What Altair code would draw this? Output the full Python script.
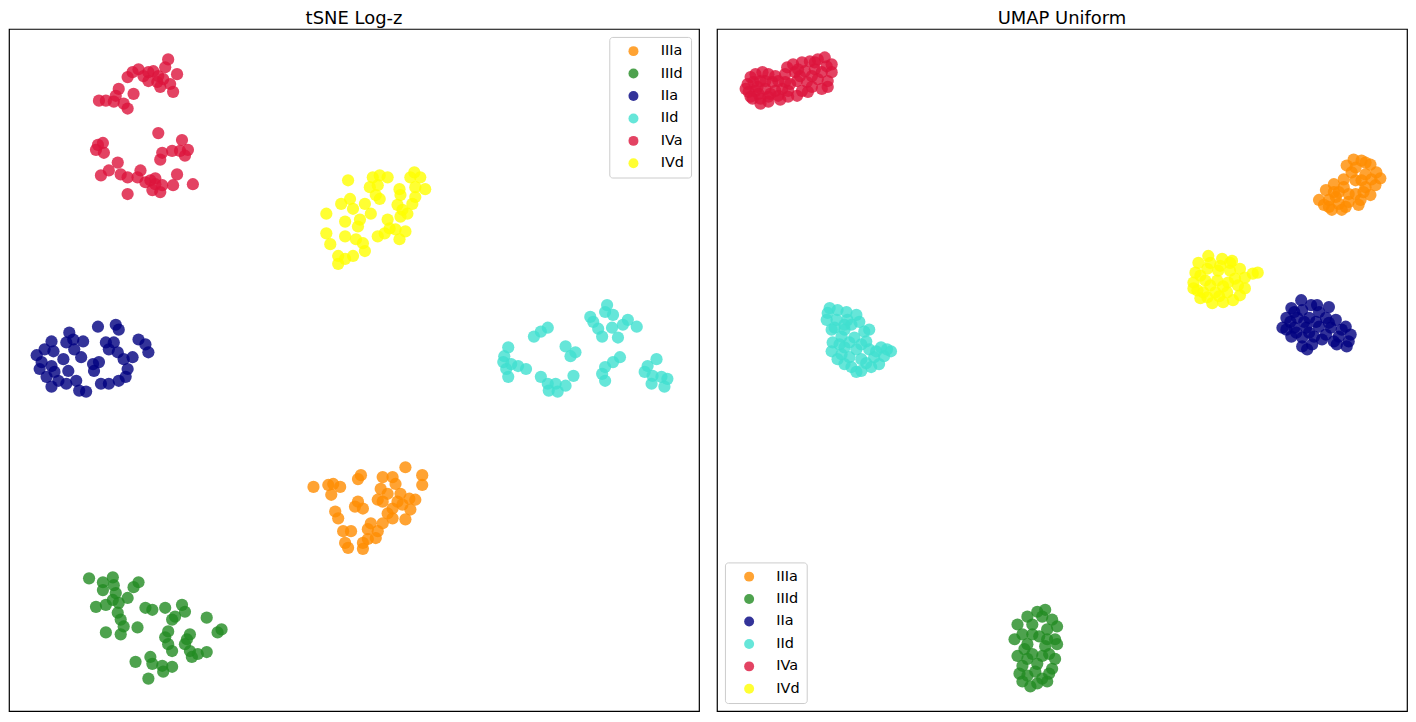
import altair as alt
import pandas as pd

classes = ["IIIa", "IIId", "IIa", "IId", "IVa", "IVd"]
colors = ["#FF8C00", "#228B22", "#000080", "#40E0D0", "#DC143C", "#FFFF00"]

# ---- tSNE Log-z (embedding coordinates; y grows downward) ----
tsne_IVa = [(163, 55), (160, 63), (172, 70), (133, 65), (127, 68), (122, 73), (143, 68), (148, 67),
            (153, 72), (143, 77), (152, 78), (155, 83), (165, 80), (168, 88), (113, 85), (110, 92),
            (128, 90), (93, 97), (100, 97), (108, 98), (118, 100), (122, 105), (158, 75), (138, 72),
            (153, 130), (177, 137), (92, 142), (97, 140), (90, 147), (98, 150), (157, 150), (155, 157),
            (167, 148), (175, 148), (183, 147), (180, 153), (112, 160), (103, 168), (95, 173), (115, 172),
            (122, 175), (135, 168), (132, 175), (145, 178), (150, 182), (147, 188), (155, 190), (157, 183),
            (168, 183), (172, 172), (188, 182), (122, 192), (140, 180), (150, 176)]
tsne_IVd = [(345, 178), (370, 175), (377, 173), (385, 175), (367, 185), (375, 183), (373, 193), (377, 197),
            (412, 170), (408, 175), (418, 175), (423, 187), (413, 185), (397, 187), (398, 193), (413, 195),
            (410, 202), (395, 203), (400, 208), (405, 212), (398, 215), (347, 197), (338, 202), (350, 207),
            (362, 202), (368, 212), (323, 212), (342, 220), (357, 218), (355, 225), (385, 218), (387, 227),
            (393, 228), (403, 230), (397, 238), (382, 232), (375, 235), (323, 232), (327, 243), (342, 235),
            (353, 238), (360, 242), (362, 250), (350, 255), (342, 258), (335, 255), (335, 263)]
tsne_IIa = [(92, 327), (110, 325), (113, 330), (63, 333), (67, 340), (60, 343), (45, 342), (38, 350),
            (47, 352), (77, 342), (68, 350), (75, 358), (57, 360), (35, 363), (33, 370), (45, 367),
            (48, 373), (52, 382), (45, 388), (60, 385), (70, 382), (73, 392), (80, 393), (87, 365),
            (93, 363), (88, 372), (100, 343), (108, 343), (103, 350), (112, 353), (118, 360), (127, 358),
            (133, 340), (140, 345), (143, 353), (122, 370), (120, 378), (113, 382), (103, 385), (95, 385),
            (30, 356), (40, 378), (62, 372)]
tsne_IId = [(607, 305), (605, 312), (613, 315), (590, 317), (593, 322), (628, 320), (623, 325), (637, 327),
            (612, 328), (602, 337), (618, 338), (547, 328), (540, 332), (533, 337), (565, 347), (575, 353),
            (570, 357), (507, 348), (503, 357), (502, 363), (510, 365), (517, 367), (525, 370), (507, 378),
            (620, 358), (613, 363), (605, 368), (602, 375), (605, 382), (540, 378), (547, 385), (555, 385),
            (565, 387), (573, 377), (548, 392), (557, 393), (657, 360), (648, 367), (645, 373), (653, 377),
            (652, 385), (662, 378), (668, 380), (665, 388), (505, 370), (598, 329)]
tsne_IIIa = [(310, 490), (403, 470), (420, 478), (420, 488), (330, 487), (325, 488), (337, 490), (328, 498),
             (358, 478), (355, 482), (380, 480), (390, 480), (393, 487), (378, 492), (398, 497), (407, 502),
             (413, 503), (355, 505), (352, 510), (360, 512), (375, 503), (380, 505), (332, 515), (335, 522),
             (385, 517), (390, 512), (400, 508), (408, 513), (403, 523), (390, 522), (380, 527), (368, 527),
             (365, 533), (375, 535), (340, 535), (348, 535), (342, 547), (345, 552), (360, 547), (365, 543),
             (360, 553), (373, 542), (395, 505), (385, 497)]
tsne_IIId = [(83, 583), (107, 582), (97, 587), (108, 590), (133, 587), (128, 592), (97, 595), (110, 598),
             (122, 603), (90, 612), (100, 610), (107, 605), (112, 618), (140, 613), (147, 615), (160, 613),
             (177, 610), (180, 617), (170, 622), (167, 625), (115, 625), (118, 632), (132, 633), (115, 640),
             (100, 638), (202, 623), (163, 637), (160, 643), (163, 650), (167, 657), (185, 640), (180, 650),
             (185, 657), (187, 663), (193, 660), (202, 658), (213, 638), (217, 635), (130, 668), (145, 663),
             (147, 670), (157, 672), (158, 678), (167, 673), (143, 685), (113, 608), (182, 645)]

# ---- UMAP Uniform ----
umap_IVa = [(750, 73), (755, 70), (762, 68), (768, 70), (775, 72), (747, 80), (753, 78), (760, 77),
            (772, 78), (778, 77), (748, 88), (755, 87), (765, 85), (775, 87), (782, 85), (752, 95),
            (760, 95), (768, 93), (778, 92), (768, 98), (788, 87), (788, 93), (797, 92), (787, 63),
            (793, 60), (802, 58), (810, 57), (818, 55), (825, 53), (785, 70), (795, 68), (805, 67),
            (815, 65), (827, 62), (832, 68), (797, 77), (807, 78), (818, 75), (828, 77), (802, 87),
            (812, 83), (822, 85), (785, 78), (745, 85), (758, 90), (770, 90), (790, 80), (800, 72),
            (812, 72), (822, 68), (832, 60), (815, 58), (798, 65), (765, 77), (780, 96), (757, 83),
            (808, 88), (828, 83), (760, 100), (750, 93)]
umap_IIIa = [(1368, 158), (1377, 162), (1353, 163), (1362, 165), (1383, 170), (1372, 172), (1350, 177),
             (1362, 178), (1382, 183), (1372, 185), (1340, 182), (1332, 188), (1345, 190), (1325, 198),
             (1335, 198), (1345, 202), (1338, 208), (1348, 208), (1362, 192), (1367, 198), (1355, 200),
             (1365, 203), (1377, 193), (1330, 203), (1342, 195), (1358, 170), (1368, 178), (1350, 185),
             (1340, 190), (1355, 192), (1370, 190), (1378, 177), (1387, 176), (1372, 160), (1335, 205),
             (1352, 205), (1360, 157)]
umap_IVd = [(1213, 255), (1227, 258), (1237, 260), (1203, 262), (1200, 272), (1212, 268), (1223, 270),
            (1235, 270), (1245, 268), (1258, 273), (1250, 277), (1198, 282), (1210, 280), (1222, 280),
            (1233, 282), (1243, 285), (1198, 288), (1208, 292), (1220, 292), (1232, 292), (1245, 295),
            (1205, 298), (1217, 303), (1228, 302), (1238, 300), (1215, 262), (1225, 265), (1205, 275),
            (1215, 285), (1228, 286), (1240, 278), (1250, 288), (1212, 297), (1224, 296), (1235, 262),
            (1263, 272), (1202, 290)]
umap_IIa = [(1307, 300), (1317, 305), (1335, 307), (1297, 308), (1308, 310), (1325, 312), (1292, 318),
            (1303, 318), (1315, 318), (1332, 318), (1342, 320), (1288, 328), (1300, 328), (1312, 328),
            (1325, 327), (1337, 328), (1352, 327), (1297, 337), (1308, 338), (1320, 337), (1332, 335),
            (1345, 337), (1357, 335), (1308, 347), (1318, 345), (1343, 345), (1353, 347), (1300, 312),
            (1322, 322), (1310, 322), (1296, 322), (1335, 323), (1348, 330), (1315, 333), (1302, 333),
            (1328, 340), (1340, 342), (1355, 342), (1313, 350), (1323, 305), (1292, 330)]
umap_IId = [(828, 313), (838, 310), (847, 312), (857, 315), (827, 320), (837, 320), (848, 320), (860, 322),
            (835, 328), (845, 330), (865, 332), (842, 337), (855, 338), (867, 342), (833, 343), (832, 352),
            (845, 348), (857, 350), (870, 350), (882, 348), (892, 352), (838, 360), (850, 358), (862, 360),
            (875, 358), (885, 357), (852, 368), (862, 372), (872, 368), (880, 365), (830, 308), (845, 325),
            (852, 325), (840, 345), (850, 343), (862, 345), (877, 352), (888, 350), (845, 365), (867, 364),
            (857, 373), (842, 355), (832, 330), (870, 330)]
umap_IIId = [(1040, 617), (1048, 615), (1030, 622), (1055, 625), (1020, 630), (1035, 630), (1050, 635),
             (1060, 632), (1025, 640), (1042, 642), (1058, 645), (1030, 650), (1048, 652), (1020, 662),
             (1035, 660), (1052, 660), (1025, 672), (1040, 670), (1055, 675), (1030, 682), (1045, 685),
             (1022, 680), (1050, 688), (1040, 690), (1045, 622), (1035, 640), (1050, 645), (1027, 655),
             (1045, 662), (1030, 665), (1058, 665), (1038, 678), (1052, 680), (1025, 688), (1060, 650),
             (1017, 645), (1033, 693)]

tsne = {"IIIa": tsne_IIIa, "IIId": tsne_IIId, "IIa": tsne_IIa, "IId": tsne_IId, "IVa": tsne_IVa, "IVd": tsne_IVd}
umap = {"IIIa": umap_IIIa, "IIId": umap_IIId, "IIa": umap_IIa, "IId": umap_IId, "IVa": umap_IVa, "IVd": umap_IVd}


def frame(d):
    rows = []
    for c in classes:
        for x, y in d[c]:
            rows.append({"x": x, "y": y, "cls": c, "k": classes.index(c)})
    return pd.DataFrame(rows)


def panel(df, title, xdom, ydom, legend):
    return alt.Chart(df).mark_circle(size=150, opacity=0.8).encode(
        x=alt.X("x:Q", scale=alt.Scale(domain=xdom, nice=False, zero=False), axis=None),
        y=alt.Y("y:Q", scale=alt.Scale(domain=ydom, nice=False, zero=False, reverse=True), axis=None),
        color=alt.Color("cls:N", scale=alt.Scale(domain=classes, range=colors), sort=classes,
                        legend=legend, title=None),
        order=alt.Order("k:Q"),
    ).properties(width=692, height=684,
                 title=alt.TitleParams(title, fontSize=18, fontWeight="normal", font="DejaVu Sans",
                                       offset=1, color="black"))


leg_common = dict(fillColor="white", strokeColor="#cccccc", cornerRadius=3, padding=7,
                  labelFont="DejaVu Sans", labelFontSize=14.5, labelColor="black", symbolSize=100,
                  symbolOpacity=0.8, symbolStrokeWidth=0, rowPadding=7.5, labelOffset=20,
                  symbolOffset=10, symbolType="circle")

left = panel(frame(tsne), "tSNE Log-z", [2, 700], [24, 718],
             alt.Legend(orient="top-right", offset=8, **leg_common))
right = panel(frame(umap), "UMAP Uniform", [716, 1414], [24, 718],
              alt.Legend(orient="bottom-left", offset=8, **leg_common))

chart = alt.hconcat(left, right, spacing=16).resolve_scale(color="independent").resolve_legend(
    color="independent").properties(padding=0).configure_view(stroke="black", strokeWidth=1.2)

chart.save("out.html", embed_options={"renderer": "svg", "actions": False})
